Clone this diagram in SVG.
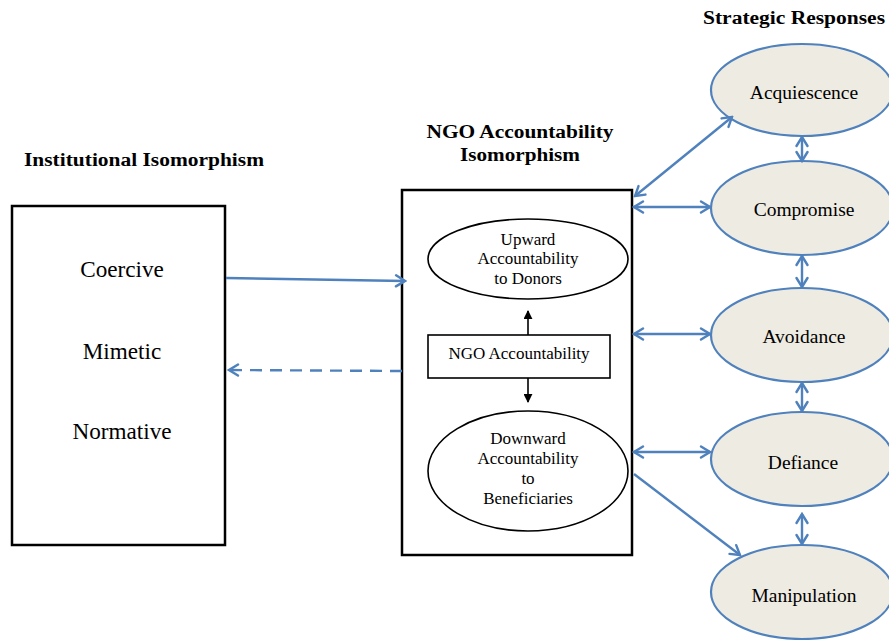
<svg xmlns="http://www.w3.org/2000/svg" width="889" height="640" viewBox="0 0 889 640" font-family="Liberation Serif">
<style>
text{fill:#000;text-anchor:middle}
.t{font-weight:bold;font-size:18px}
.l{font-size:19px}
.m{font-size:17px}
.r{font-size:19.5px}
.box{fill:#fff;stroke:#000;stroke-width:2.5}
.in{fill:#fff;stroke:#000;stroke-width:1.6}
.el{fill:#EEEBE2;stroke:#4F81BD;stroke-width:2.2}
.c{fill:none;stroke:#4F81BD;stroke-width:2.4}
.k{fill:none;stroke:#000;stroke-width:1.6}
</style>
<defs>
<marker id="bh" viewBox="0 0 14 14" refX="12" refY="7" markerWidth="14" markerHeight="14" markerUnits="userSpaceOnUse" orient="auto-start-reverse">
<path d="M3,1.5 L12,7 L3,12.5" fill="none" stroke="#4F81BD" stroke-width="2.4" stroke-linecap="round"/>
</marker>
<marker id="kh" viewBox="0 0 10 10" refX="9" refY="5" markerWidth="9" markerHeight="9" markerUnits="userSpaceOnUse" orient="auto">
<path d="M0,0 L10,5 L0,10 Z" fill="#000"/>
</marker>
</defs>

<text class="t" x="144" y="166" textLength="240" lengthAdjust="spacingAndGlyphs">Institutional Isomorphism</text>
<text class="t" x="520" y="138" textLength="187" lengthAdjust="spacingAndGlyphs">NGO Accountability</text>
<text class="t" x="520" y="161" textLength="120" lengthAdjust="spacingAndGlyphs">Isomorphism</text>
<text class="t" x="794" y="24" textLength="182" lengthAdjust="spacingAndGlyphs">Strategic Responses</text>

<g id="institutional">
<rect class="box" x="12" y="206" width="213" height="339"/>
<text class="l" transform="translate(122,277) scale(1.22)">Coercive</text>
<text class="l" transform="translate(122,359) scale(1.22)">Mimetic</text>
<text class="l" transform="translate(122,439) scale(1.22)">Normative</text>
</g>

<g id="ngo-box">
<rect class="box" x="402" y="190" width="230" height="365"/>
</g>
<g id="upward">
<ellipse class="in" cx="528" cy="259" rx="100" ry="40"/>
<text class="m" x="528" y="245">Upward</text>
<text class="m" x="528" y="264">Accountability</text>
<text class="m" x="528" y="284">to Donors</text>
</g>
<g id="ngo-accountability">
<rect class="in" x="428" y="335" width="182" height="43"/>
<text class="m" x="519" y="359">NGO Accountability</text>
</g>
<g id="downward">
<ellipse class="in" cx="528" cy="471" rx="100" ry="60"/>
<text class="m" x="528" y="444">Downward</text>
<text class="m" x="528" y="464">Accountability</text>
<text class="m" x="528" y="484">to</text>
<text class="m" x="528" y="504">Beneficiaries</text>
</g>

<g id="acquiescence">
<ellipse class="el" cx="802" cy="90" rx="91" ry="46"/>
<text class="r" x="804" y="99">Acquiescence</text>
</g>
<g id="compromise">
<ellipse class="el" cx="802" cy="208" rx="91" ry="47"/>
<text class="r" x="804" y="216">Compromise</text>
</g>
<g id="avoidance">
<ellipse class="el" cx="802" cy="335" rx="91" ry="47"/>
<text class="r" x="804" y="343">Avoidance</text>
</g>
<g id="defiance">
<ellipse class="el" cx="802" cy="459" rx="91" ry="47"/>
<text class="r" x="803" y="469">Defiance</text>
</g>
<g id="manipulation">
<ellipse class="el" cx="802" cy="592" rx="91" ry="47"/>
<text class="r" x="804" y="602">Manipulation</text>
</g>

<g id="connectors">
<line class="c" x1="226" y1="278" x2="405" y2="281" marker-end="url(#bh)"/>
<line class="c" x1="402" y1="371" x2="229" y2="370" stroke-dasharray="12,8" marker-end="url(#bh)"/>
<line class="k" x1="528" y1="335" x2="528" y2="311" marker-end="url(#kh)"/>
<line class="k" x1="528" y1="378" x2="528" y2="402" marker-end="url(#kh)"/>
<line class="c" x1="635" y1="196" x2="732" y2="117" marker-start="url(#bh)" marker-end="url(#bh)"/>
<line class="c" x1="634" y1="207" x2="710" y2="207" marker-start="url(#bh)" marker-end="url(#bh)"/>
<line class="c" x1="634" y1="334" x2="710" y2="334" marker-start="url(#bh)" marker-end="url(#bh)"/>
<line class="c" x1="634" y1="452" x2="710" y2="452" marker-start="url(#bh)" marker-end="url(#bh)"/>
<line class="c" x1="634" y1="474" x2="740" y2="555" marker-end="url(#bh)"/>
<line class="c" x1="802" y1="137" x2="802" y2="161" marker-start="url(#bh)" marker-end="url(#bh)"/>
<line class="c" x1="802" y1="256" x2="802" y2="287" marker-start="url(#bh)" marker-end="url(#bh)"/>
<line class="c" x1="802" y1="383" x2="802" y2="411" marker-start="url(#bh)" marker-end="url(#bh)"/>
<line class="c" x1="802" y1="514" x2="802" y2="544" marker-start="url(#bh)" marker-end="url(#bh)"/>
</g>
</svg>
